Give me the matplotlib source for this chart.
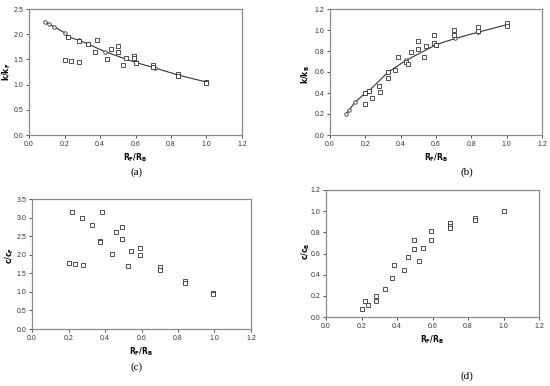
import numpy as np
import matplotlib
matplotlib.use("Agg")
import matplotlib.pyplot as plt

plt.rcParams['font.family'] = ['Liberation Sans', 'DejaVu Sans']

# panel (a): k/kF
a_line_x = [0.09, 0.11, 0.14, 0.20, 0.22, 0.28, 0.33, 0.43, 0.60, 0.71, 0.84, 1.00]
a_line_y = [2.25, 2.21, 2.15, 2.03, 1.95, 1.88, 1.81, 1.65, 1.44, 1.33, 1.19, 1.05]
a_sq_x = [0.20, 0.235, 0.28, 0.22, 0.28, 0.33, 0.37, 0.385, 0.44, 0.46, 0.50, 0.50,
          0.53, 0.545, 0.59, 0.59, 0.60, 0.70, 0.70, 0.84, 0.84, 1.00, 1.00]
a_sq_y = [1.48, 1.46, 1.45, 1.94, 1.87, 1.81, 1.64, 1.89, 1.51, 1.71, 1.76, 1.65,
          1.39, 1.53, 1.57, 1.52, 1.43, 1.39, 1.34, 1.21, 1.18, 1.06, 1.03]

# panel (b): k/kB
b_line_x = [0.09, 0.11, 0.14, 0.20, 0.22, 0.33, 0.43, 0.60, 0.71, 0.84, 1.00]
b_line_y = [0.20, 0.24, 0.31, 0.40, 0.42, 0.60, 0.71, 0.86, 0.92, 0.98, 1.05]
b_sq_x = [0.20, 0.20, 0.22, 0.235, 0.275, 0.285, 0.33, 0.33, 0.37, 0.385, 0.43, 0.44,
          0.46, 0.50, 0.50, 0.53, 0.545, 0.59, 0.59, 0.60, 0.70, 0.70, 0.84, 0.84,
          1.00, 1.00]
b_sq_y = [0.40, 0.30, 0.42, 0.35, 0.47, 0.41, 0.60, 0.54, 0.62, 0.74, 0.70, 0.68,
          0.79, 0.90, 0.82, 0.74, 0.85, 0.95, 0.88, 0.86, 1.00, 0.95, 1.03, 0.99,
          1.07, 1.04]

# panel (c): c/cF
c_sq_x = [0.20, 0.22, 0.235, 0.275, 0.28, 0.33, 0.37, 0.37, 0.385, 0.44, 0.46, 0.495,
          0.495, 0.525, 0.545, 0.59, 0.59, 0.70, 0.70, 0.84, 0.84, 0.99, 0.99]
c_sq_y = [1.78, 3.15, 1.75, 2.98, 1.72, 2.80, 2.38, 2.35, 3.15, 2.02, 2.60, 2.75,
          2.42, 1.70, 2.10, 2.18, 1.98, 1.68, 1.60, 1.30, 1.23, 0.96, 0.93]

# panel (d): c/cB
d_sq_x = [0.20, 0.22, 0.235, 0.28, 0.28, 0.33, 0.37, 0.385, 0.44, 0.46, 0.495, 0.495,
          0.525, 0.545, 0.59, 0.59, 0.70, 0.70, 0.70, 0.84, 0.84, 1.00]
d_sq_y = [0.08, 0.15, 0.11, 0.20, 0.15, 0.26, 0.37, 0.49, 0.44, 0.57, 0.73, 0.64,
          0.53, 0.65, 0.81, 0.73, 0.89, 0.86, 0.84, 0.94, 0.92, 1.00]

x_ticks = np.arange(0, 1.21, 0.2)

fig = plt.figure(figsize=(5.5, 3.86), dpi=100)

W, H = 550.0, 386.0

def make_axes(l, r, t, b):
    return fig.add_axes([l / W, 1 - b / H, (r - l) / W, (b - t) / H])

# axes box (pixels), y max, y step, y label, y label pos, tag, tag pos
panels = [
    (make_axes(29, 242, 9, 135), 2.5, 0.5, '$\\mathbf{k/k_F}$', (7, 72), '(a)', (137, 172)),
    (make_axes(330, 542, 9, 135), 1.2, 0.2, '$\\mathbf{k/k_B}$', (306, 75), '(b)', (467, 172)),
    (make_axes(32, 251, 199, 329), 3.5, 0.5, '$\\mathbf{c/c_F}$', (10, 255), '(c)', (137, 367)),
    (make_axes(326, 539, 190, 317), 1.2, 0.2, '$\\mathbf{c/c_B}$', (306, 251), '(d)', (467, 376)),
]

sq_data = [(a_sq_x, a_sq_y), (b_sq_x, b_sq_y), (c_sq_x, c_sq_y), (d_sq_x, d_sq_y)]
line_data = [(a_line_x, a_line_y), (b_line_x, b_line_y), None, None]

for (ax, ymax, ystep, ylab, ypos, tag, tpos), sq, ln in zip(panels, sq_data, line_data):
    if ln is not None:
        ax.plot(ln[0], ln[1], color='#333333', lw=0.8, marker='o', ms=2.5,
                mfc='white', mec='#333333', mew=0.6, zorder=2)
    ax.plot(sq[0], sq[1], ls='none', marker='s', ms=3.4, mfc='white',
            mec='#333333', mew=0.6, zorder=3)
    ax.set_xlim(0, 1.2)
    ax.set_ylim(0, ymax)
    ax.set_xticks(x_ticks)
    ax.set_xticklabels(['%.1f' % v for v in x_ticks])
    yt = np.arange(0, ymax + 1e-6, ystep)
    ax.set_yticks(yt)
    ax.set_yticklabels(['%.1f' % v for v in yt])
    ax.tick_params(labelsize=5, length=2, width=0.6, colors='#333333', pad=2)
    for s in ax.spines.values():
        s.set_color('#8c8c8c')
        s.set_linewidth(0.9)
    ax.set_xlabel('$\\mathbf{R_F/R_B}$', fontsize=5.5, labelpad=3)
    fig.text(ypos[0] / W, 1 - ypos[1] / H, ylab, rotation=90, ha='center',
             va='center', fontsize=5.5)
    fig.text(tpos[0] / W, 1 - tpos[1] / H, tag, ha='center', va='center',
             fontsize=8, family='Liberation Serif')

fig.savefig('out.png', dpi=100)
